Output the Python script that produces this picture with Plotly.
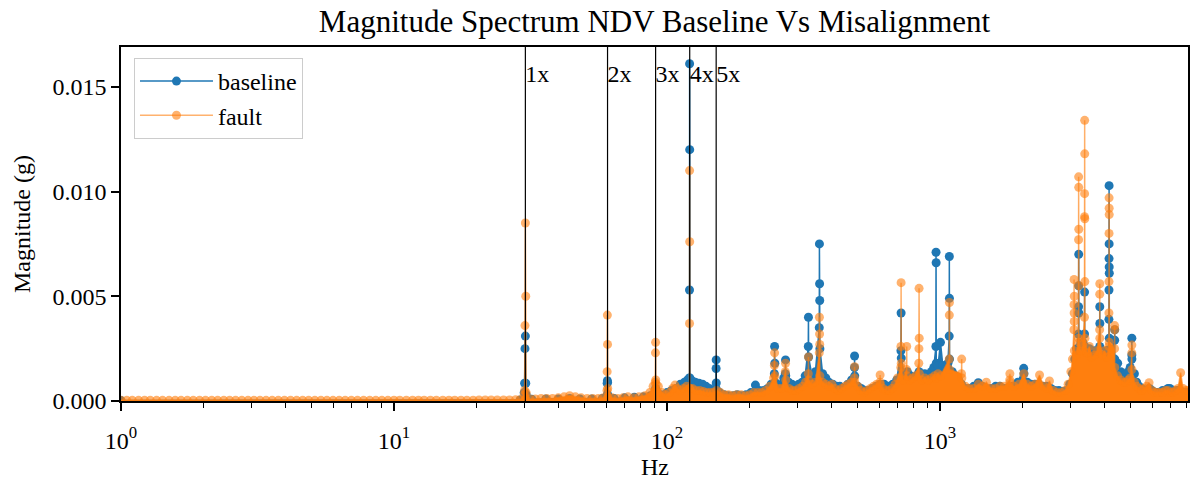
import plotly.graph_objects as go

# ---------------- data ----------------
harmonic_hz = [30.3, 60.6, 90.9, 121.2, 151.5]
harmonic_labels = ["1x", "2x", "3x", "4x", "5x"]

x_tick_vals = [1, 10, 100, 1000]
x_tick_text = ["10<sup>0</sup>", "10<sup>1</sup>", "10<sup>2</sup>", "10<sup>3</sup>"]
x_minor_ticks = [2, 3, 4, 5, 6, 7, 8, 9, 20, 30, 40, 50, 60, 70, 80, 90,
                 200, 300, 400, 500, 600, 700, 800, 900,
                 2000, 3000, 4000, 5000, 6000, 7000, 8000]
y_tick_vals = [0.0, 0.005, 0.010, 0.015]
y_tick_text = ["0.000", "0.005", "0.010", "0.015"]

# (Hz, magnitude g)
baseline_points = [
    (1.0, 2e-5), (29.0, 5e-5),
    (30.0, 0.0004), (30.1, 0.00085), (30.2, 0.0025), (30.3, 0.0031), (30.4, 0.00085), (30.5, 0.0003),
    (32, 0.00008), (36, 0.0001), (40, 0.0001), (44, 0.00012), (48, 0.0001), (53, 0.0001), (58, 0.00012),
    (60.4, 0.00085), (60.5, 0.00097), (60.6, 0.0009), (60.7, 0.0003),
    (64, 0.00012), (70, 0.00015), (76, 0.00018), (82, 0.0002), (87, 0.00025),
    (90.8, 0.0004), (90.9, 0.0006), (91.0, 0.0004),
    (95, 0.0003), (100, 0.0004), (104, 0.0005), (108, 0.0006), (112, 0.0008), (116, 0.0009), (119, 0.001),
    (120.9, 0.0011), (121.0, 0.0053), (121.1, 0.0161), (121.2, 0.0120), (121.3, 0.0011),
    (124, 0.00095), (127, 0.0009), (131, 0.00085), (135, 0.0008), (139, 0.0007), (143, 0.0006), (147, 0.0005),
    (151.3, 0.0006), (151.4, 0.00155), (151.5, 0.00196), (151.6, 0.00086), (151.7, 0.0005),
    (156, 0.0004), (162, 0.0003), (168, 0.00025), (175, 0.00025), (181, 0.0003), (188, 0.00025),
    (195, 0.0003), (203, 0.0004), (211, 0.00076), (218, 0.0005), (226, 0.0005), (234, 0.0006), (241, 0.0008),
    (247.5, 0.0013), (248, 0.0026), (248.5, 0.0018), (249, 0.0009),
    (256, 0.0007), (263, 0.0008), (268, 0.0011),
    (271.5, 0.0013), (272, 0.00196), (272.5, 0.0012),
    (279, 0.0009), (287, 0.0008), (295, 0.0007), (304, 0.0008), (313, 0.0009), (321, 0.0012),
    (329.5, 0.0026), (330, 0.0040), (330.5, 0.0021),
    (340, 0.0012), (350, 0.0014),
    (361.5, 0.0035), (362, 0.0075), (362.5, 0.0056), (363, 0.0048), (363.5, 0.0025),
    (372, 0.0013), (382, 0.0011), (392, 0.0009), (405, 0.0008), (418, 0.0007), (430, 0.0007),
    (445, 0.0006), (460, 0.0008), (475, 0.001),
    (486.5, 0.0016), (487, 0.00215), (487.5, 0.0012),
    (500, 0.0007), (515, 0.0006), (530, 0.0005), (548, 0.0005), (566, 0.0006), (585, 0.0007),
    (605, 0.0008), (625, 0.0008), (648, 0.0007), (672, 0.0008), (695, 0.001),
    (720, 0.0024), (721, 0.0042), (722, 0.00205),
    (740, 0.0013), (760, 0.0014), (780, 0.0012), (800, 0.0011), (820, 0.0012), (839, 0.0014),
    (860, 0.0012), (880, 0.0013), (900, 0.0011), (930, 0.0014), (950, 0.0016),
    (967, 0.0026), (968, 0.0071), (969, 0.0066), (970, 0.0018),
    (985, 0.0017), (1005, 0.0028), (1025, 0.0017), (1050, 0.0015), (1070, 0.0018),
    (1082, 0.0031), (1083, 0.0069), (1084, 0.0049), (1085, 0.0020),
    (1110, 0.0014), (1140, 0.0012), (1170, 0.0010), (1200, 0.0008), (1240, 0.0006), (1280, 0.0006),
    (1330, 0.0007), (1383, 0.00087), (1430, 0.0007), (1480, 0.0006), (1540, 0.0006), (1600, 0.0007),
    (1660, 0.0007), (1720, 0.0006), (1780, 0.0006), (1850, 0.0007), (1930, 0.0009),
    (2028, 0.00156), (2032, 0.0013),
    (2090, 0.0009), (2160, 0.0008), (2230, 0.0008), (2300, 0.0008), (2380, 0.0007), (2460, 0.0007),
    (2550, 0.0006), (2640, 0.0005), (2730, 0.0005), (2820, 0.00045), (2910, 0.0005), (2990, 0.0008),
    (3060, 0.0013), (3120, 0.0020), (3170, 0.0025),
    (3220, 0.0032), (3222, 0.0045), (3224, 0.0055), (3226, 0.0070), (3228, 0.0042), (3230, 0.0025),
    (3290, 0.0022), (3340, 0.0028),
    (3388, 0.0032), (3390, 0.0052), (3392, 0.0026),
    (3460, 0.0022), (3530, 0.0025), (3600, 0.0021), (3680, 0.0024), (3760, 0.0022),
    (3851, 0.0026), (3853, 0.0045), (3855, 0.0037), (3857, 0.0021),
    (3930, 0.0022), (4010, 0.0021), (4090, 0.0024),
    (4160, 0.00244), (4162, 0.0039), (4164, 0.0053), (4166, 0.0068), (4168, 0.01028), (4170, 0.0075),
    (4172, 0.0064), (4174, 0.0061), (4176, 0.0030), (4178, 0.0022),
    (4368, 0.0029), (4370, 0.0034), (4372, 0.0020),
    (4480, 0.0018), (4600, 0.0014), (4700, 0.0012), (4800, 0.0013), (4900, 0.0014), (4980, 0.0016),
    (5048, 0.0022), (5050, 0.0030), (5052, 0.0020),
    (5160, 0.0013), (5260, 0.0009), (5370, 0.0007), (5480, 0.0006), (5600, 0.0005), (5720, 0.0005),
    (5850, 0.0006), (5980, 0.0005), (6120, 0.0004), (6260, 0.0004), (6400, 0.0004), (6550, 0.0005),
    (6700, 0.0005), (6850, 0.0006), (6960, 0.0006), (7100, 0.0005), (7250, 0.0004), (7400, 0.0005),
    (7550, 0.0005), (7700, 0.0004), (7850, 0.0004), (8000, 0.0004), (8150, 0.0004),
]

fault_points = [
    (1.0, 3e-5), (1.05, 3e-5), (1.1, 3e-5), (1.16, 3e-5), (1.22, 3e-5), (1.28, 3e-5), (1.35, 3e-5),
    (1.42, 3e-5), (1.5, 3e-5), (1.58, 3e-5), (1.66, 3e-5), (1.75, 3e-5), (1.84, 3e-5), (1.94, 3e-5),
    (2.04, 3e-5), (2.15, 3e-5), (2.26, 3e-5), (2.38, 3e-5), (2.5, 3e-5), (2.63, 3e-5), (2.77, 3e-5),
    (2.92, 3e-5), (3.07, 3e-5), (3.23, 3e-5), (3.4, 3e-5), (3.58, 3e-5), (3.77, 3e-5), (3.97, 3e-5),
    (4.18, 3e-5), (4.4, 3e-5), (4.63, 3e-5), (4.87, 3e-5), (5.13, 3e-5), (5.4, 3e-5), (5.68, 3e-5),
    (5.98, 3e-5), (6.3, 3e-5), (6.63, 3e-5), (6.98, 3e-5), (7.35, 3e-5), (7.74, 3e-5), (8.15, 3e-5),
    (8.58, 3e-5), (9.03, 3e-5), (9.5, 3e-5), (10.0, 4e-5), (10.5, 4e-5), (11.1, 4e-5), (11.7, 4e-5),
    (12.3, 4e-5), (12.9, 4e-5), (13.6, 4e-5), (14.3, 4e-5), (15.1, 4e-5), (15.9, 4e-5), (16.7, 4e-5),
    (17.6, 4e-5), (18.5, 4e-5), (19.5, 4e-5), (20.5, 5e-5), (21.6, 5e-5), (22.7, 5e-5), (23.9, 5e-5),
    (25.2, 5e-5), (26.5, 5e-5), (27.9, 6e-5), (29.0, 6e-5),
    (30.0, 0.0003), (30.1, 0.0005), (30.2, 0.0036), (30.3, 0.0085), (30.4, 0.0050), (30.5, 0.0004),
    (31.5, 0.0001), (33, 0.0001), (34.6, 0.00012), (36.3, 0.00012), (38.1, 0.00012), (40, 0.00015),
    (42, 0.0002), (44, 0.00025), (46.2, 0.0002), (48.5, 0.00015), (51, 0.00012), (53.5, 0.00012),
    (56, 0.00012), (58.5, 0.00015),
    (60.3, 0.0005), (60.4, 0.0014), (60.5, 0.0041), (60.6, 0.0027), (60.7, 0.0006),
    (63, 0.00015), (66, 0.00012), (69, 0.00015), (72, 0.0002), (75.5, 0.00015), (79, 0.0002),
    (83, 0.00025), (86.5, 0.0004), (89, 0.0007),
    (90.6, 0.0009), (90.8, 0.0023), (90.9, 0.0028), (91.0, 0.0010), (91.2, 0.0008),
    (93, 0.0007), (96, 0.0004), (99, 0.0003), (102, 0.0004), (105, 0.0006), (107, 0.00076),
    (109, 0.0006), (112, 0.0005), (115, 0.0006), (118, 0.0007),
    (120.9, 0.0006), (121.0, 0.0037), (121.1, 0.0110), (121.2, 0.0076), (121.3, 0.0006),
    (124, 0.0006), (128, 0.0005), (132, 0.0005), (136, 0.00045), (140, 0.0004), (144, 0.0004),
    (148, 0.0004), (152, 0.0005), (157, 0.0004), (162, 0.0003), (168, 0.0003), (174, 0.00025),
    (180, 0.0003), (187, 0.0003), (194, 0.00025), (201, 0.0003), (208, 0.0004), (215, 0.0004),
    (222, 0.0004), (230, 0.0005), (238, 0.0007),
    (246, 0.0011), (247.5, 0.0017), (248, 0.0023), (248.5, 0.0012),
    (256, 0.0006), (263, 0.0006),
    (271.5, 0.0014), (272, 0.0018), (272.5, 0.0010),
    (280, 0.0006), (288, 0.0005), (296, 0.0005), (305, 0.0006), (314, 0.0007), (322, 0.0009),
    (329.5, 0.0013), (330, 0.0021), (330.5, 0.0010),
    (340, 0.0008), (350, 0.0009),
    (361.5, 0.0023), (362, 0.0040), (362.5, 0.0032), (363, 0.0027), (363.5, 0.0012),
    (372, 0.0009), (382, 0.0008), (392, 0.0007), (402, 0.0008), (412, 0.0006), (424, 0.0005),
    (436, 0.0006), (449, 0.0007), (462, 0.0008), (475, 0.0009),
    (486.5, 0.0011), (487, 0.00164), (487.5, 0.0009),
    (500, 0.0007), (513, 0.0005), (527, 0.0004), (541, 0.0005), (556, 0.0006), (571, 0.0007), (587, 0.0008),
    (603.5, 0.0009), (604, 0.00124), (604.5, 0.0008),
    (620, 0.0006), (636, 0.0005), (652, 0.0005), (668, 0.0006), (685, 0.0008), (700, 0.0011),
    (719, 0.0016), (720, 0.0026), (721, 0.00565), (722, 0.0018),
    (735, 0.0010),
    (755, 0.0015), (756, 0.0026), (757, 0.0012),
    (775, 0.0010), (795, 0.0011), (815, 0.0012),
    (837, 0.0018), (838, 0.0025), (839, 0.00538), (840, 0.0030), (841, 0.0013),
    (860, 0.0010), (880, 0.0011), (905, 0.0010), (930, 0.0011), (955, 0.0012), (968, 0.0011),
    (985, 0.0013), (1005, 0.0012),
    (1082, 0.0020), (1083, 0.0041), (1084, 0.0047), (1085, 0.0015),
    (1200, 0.0013), (1202, 0.0020), (1204, 0.0011),
    (1240, 0.0007), (1280, 0.0006), (1330, 0.0006), (1383, 0.0008), (1430, 0.0007), (1480, 0.0009),
    (1540, 0.0006), (1600, 0.0006), (1660, 0.0007), (1720, 0.0007),
    (1803, 0.0010), (1805, 0.0013), (1807, 0.0009),
    (1870, 0.0007), (1950, 0.0008), (2030, 0.0013), (2090, 0.0008), (2160, 0.0007), (2230, 0.0008),
    (2318, 0.00124), (2400, 0.0007), (2460, 0.0006), (2520, 0.00096), (2600, 0.0005), (2690, 0.0004),
    (2780, 0.0004), (2870, 0.0005), (2950, 0.0008), (3020, 0.0014), (3060, 0.0020),
    (3098, 0.0034), (3100, 0.0046), (3102, 0.0058), (3104, 0.0042), (3106, 0.0038), (3108, 0.0050), (3110, 0.0024),
    (3160, 0.0022),
    (3220, 0.0030), (3222, 0.0077), (3224, 0.0107), (3226, 0.0102), (3228, 0.0082), (3230, 0.0055), (3232, 0.0028),
    (3290, 0.0024), (3340, 0.0027),
    (3386, 0.0040), (3388, 0.0088), (3390, 0.0099), (3392, 0.0134), (3394, 0.0118), (3396, 0.0087),
    (3398, 0.0057), (3400, 0.0030),
    (3460, 0.0023), (3530, 0.0026), (3600, 0.0021), (3680, 0.0022), (3760, 0.0024),
    (3849, 0.0034), (3851, 0.0051), (3853, 0.0056), (3855, 0.0030),
    (3930, 0.0022), (4010, 0.0024), (4090, 0.0021),
    (4160, 0.0026), (4162, 0.0042), (4164, 0.0057), (4166, 0.0080), (4168, 0.0097), (4170, 0.0092),
    (4172, 0.0089), (4174, 0.0028),
    (4366, 0.0025), (4368, 0.0036), (4370, 0.0034), (4372, 0.0016),
    (4480, 0.0012), (4600, 0.0010), (4700, 0.0009), (4800, 0.0009), (4900, 0.0010), (4980, 0.0011),
    (5048, 0.0023), (5050, 0.00267), (5052, 0.0015),
    (5160, 0.0009), (5260, 0.0007), (5370, 0.0006), (5480, 0.0005), (5600, 0.0006), (5720, 0.0007),
    (5840, 0.00087), (5980, 0.0005), (6120, 0.0004), (6260, 0.0004), (6400, 0.0004), (6550, 0.0004),
    (6700, 0.0005), (6850, 0.0005), (7000, 0.0004), (7150, 0.0004), (7300, 0.0005), (7450, 0.0006),
    (7620, 0.00135), (7780, 0.0006), (7950, 0.0005), (8110, 0.0005),
]

# ---------------- figure ----------------
FONT = "Liberation Serif"
BLUE = "#1f77b4"
ORANGE = "#ff7f0e"
ORANGE_A = "rgba(255,127,14,0.6)"
Y_MAX = 0.0169

bx, by = zip(*sorted(baseline_points))
fx, fy = zip(*sorted(fault_points))

fig = go.Figure()
fig.add_trace(go.Scatter(x=bx, y=by, mode="none", fill="tozeroy", fillcolor=BLUE,
                         showlegend=False, hoverinfo="skip"))
fig.add_trace(go.Scatter(x=bx, y=by, mode="lines+markers", name="baseline",
                         line=dict(color=BLUE, width=1.5),
                         marker=dict(color=BLUE, size=9)))
fig.add_trace(go.Scatter(x=fx, y=fy, mode="none", fill="tozeroy", fillcolor=ORANGE,
                         showlegend=False, hoverinfo="skip"))
fig.add_trace(go.Scatter(x=fx, y=fy, mode="lines+markers", name="fault",
                         line=dict(color=ORANGE_A, width=1.5),
                         marker=dict(color=ORANGE_A, size=9)))

for h in harmonic_hz:
    fig.add_trace(go.Scatter(x=[h, h], y=[0, Y_MAX], mode="lines",
                             line=dict(color="black", width=1.2),
                             showlegend=False, hoverinfo="skip"))
fig.add_trace(go.Scatter(x=harmonic_hz, y=[0.0155] * len(harmonic_hz), mode="text",
                         text=harmonic_labels, textposition="middle right",
                         textfont=dict(family=FONT, size=24, color="black"),
                         showlegend=False, hoverinfo="skip"))

axis_common = dict(showline=True, linecolor="black", linewidth=1.5, mirror=True,
                   ticks="outside", ticklen=8, tickwidth=1.5, tickcolor="black",
                   showgrid=False, zeroline=False,
                   tickfont=dict(family=FONT, size=24, color="black"))

fig.update_layout(
    width=1193, height=487,
    margin=dict(l=121, r=3, t=47, b=86),
    paper_bgcolor="white", plot_bgcolor="white",
    font=dict(family=FONT, size=24, color="black"),
    title=dict(text="Magnitude Spectrum NDV Baseline Vs Misalignment",
               font=dict(family=FONT, size=31, color="black"),
               x=0.5, xref="paper", xanchor="center",
               y=1 - 21 / 487, yref="container", yanchor="middle"),
    xaxis=dict(type="log", range=[0, 3.909],
               tickmode="array", tickvals=x_tick_vals, ticktext=x_tick_text,
               ticklabelstandoff=9,
               minor=dict(tickmode="array", tickvals=x_minor_ticks, ticks="outside",
                          ticklen=5, tickwidth=1.2, tickcolor="black", showgrid=False),
               **axis_common),
    yaxis=dict(range=[0, Y_MAX], tickmode="array", tickvals=y_tick_vals, ticktext=y_tick_text,
               title=dict(text="Magnitude (g)", font=dict(family=FONT, size=24, color="black"),
                          standoff=15),
               **axis_common),
    legend=dict(x=13 / 1069, y=1 - 11 / 354, xanchor="left", yanchor="top",
                bgcolor="rgba(255,255,255,0.8)", bordercolor="#cccccc", borderwidth=1,
                font=dict(family=FONT, size=24, color="black"), itemwidth=73,
                entrywidth=170, entrywidthmode="pixels",
                tracegroupgap=0),
    showlegend=True,
    annotations=[dict(text="Hz", xref="paper", yref="paper", x=0.5, y=-(467 - 401) / 354,
                      xanchor="center", yanchor="middle", showarrow=False,
                      font=dict(family=FONT, size=24, color="black"))],
)

fig.write_html("out.html")
